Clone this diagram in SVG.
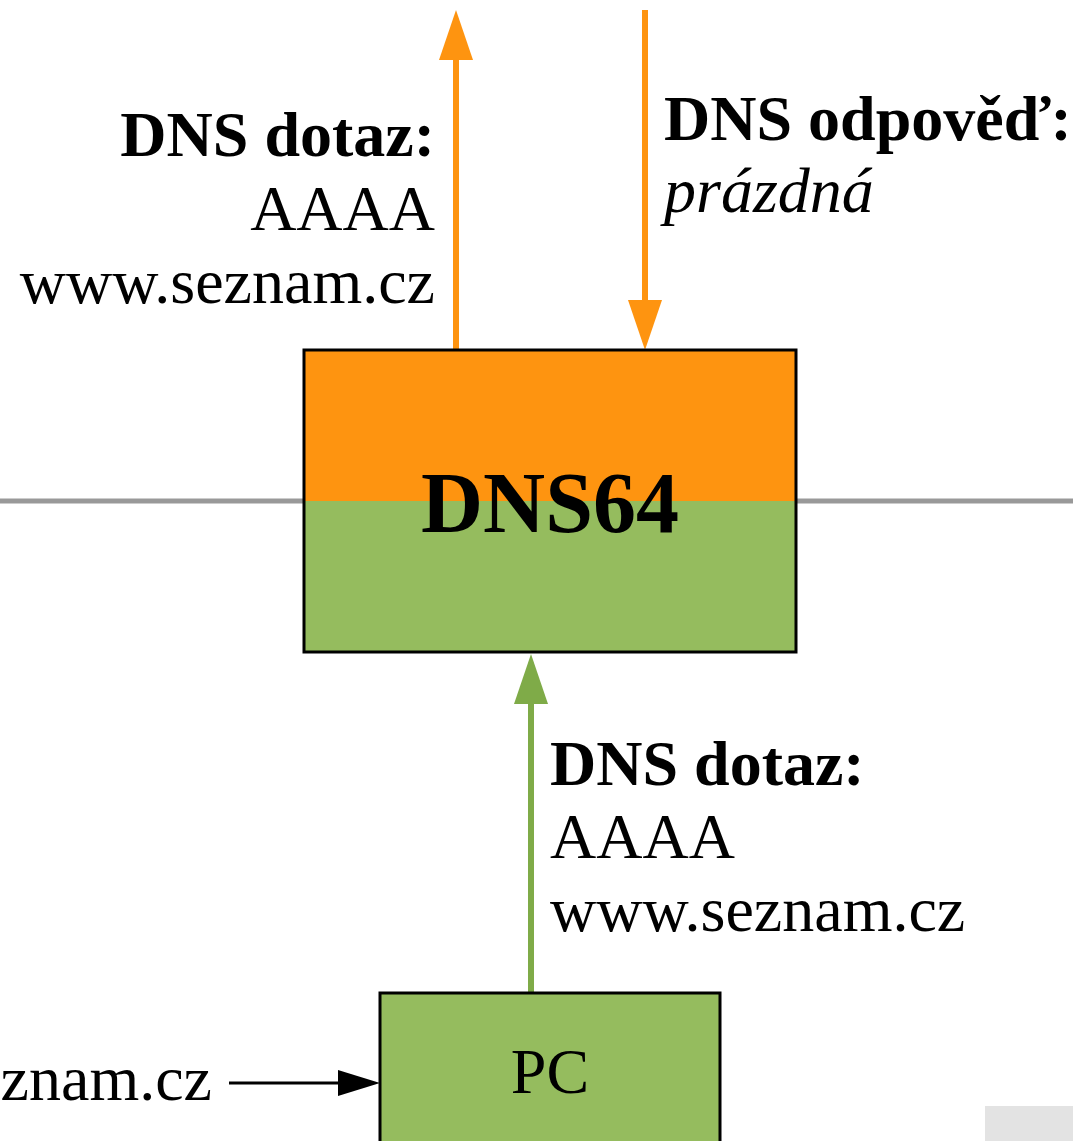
<svg xmlns="http://www.w3.org/2000/svg" width="1073" height="1141" viewBox="0 0 1073 1141">
<defs>
<style>
.t{font-family:"Liberation Serif","Times New Roman",serif;font-size:64px;fill:#000}
.b{font-weight:bold}
.i{font-style:italic}
.e{text-anchor:end}
.m{text-anchor:middle}
</style>
<marker id="ao" markerUnits="userSpaceOnUse" markerWidth="50" markerHeight="34" refX="0" refY="17" orient="auto" viewBox="0 0 50 34"><path d="M0,0 L50,17 L0,34 Z" fill="#fe9410"/></marker>
<marker id="ag" markerUnits="userSpaceOnUse" markerWidth="50" markerHeight="34" refX="0" refY="17" orient="auto" viewBox="0 0 50 34"><path d="M0,0 L50,17 L0,34 Z" fill="#7fab48"/></marker>
<marker id="ak" markerUnits="userSpaceOnUse" markerWidth="42" markerHeight="26" refX="0" refY="13" orient="auto" viewBox="0 0 42 26"><path d="M0,0 L42,13 L0,26 Z" fill="#000"/></marker>
</defs>
<rect width="1073" height="1141" fill="#fff"/>
<line x1="0" y1="501" x2="1073" y2="501" stroke="#999" stroke-width="5"/>
<rect x="985" y="1106" width="88" height="35" fill="#e3e3e3"/>
<g id="connectors">
<line x1="456" y1="350" x2="456" y2="60" stroke="#fe9410" stroke-width="6" marker-end="url(#ao)"/>
<line x1="645" y1="10" x2="645" y2="300" stroke="#fe9410" stroke-width="6" marker-end="url(#ao)"/>
<line x1="531" y1="992" x2="531" y2="704" stroke="#7fab48" stroke-width="6" marker-end="url(#ag)"/>
<line x1="229" y1="1083" x2="338" y2="1083" stroke="#000" stroke-width="3" marker-end="url(#ak)"/>
</g>
<g id="dns64">
<rect x="304" y="350" width="492" height="151" fill="#fe9410"/>
<rect x="304" y="501" width="492" height="151" fill="#95bc5e"/>
<rect x="304" y="350" width="492" height="302" fill="none" stroke="#000" stroke-width="3"/>
<text class="t b m" x="550" y="532" style="font-size:86px">DNS64</text>
</g>
<g id="pc">
<rect x="380" y="993" width="340" height="160" fill="#95bc5e" stroke="#000" stroke-width="3"/>
<text class="t m" x="550" y="1093">PC</text>
</g>
<g id="labels">
<text class="t b e" x="435" y="156">DNS dotaz:</text>
<text class="t e" x="435" y="230">AAAA</text>
<text class="t e" x="435" y="303">www.seznam.cz</text>
<text class="t b" x="664" y="140">DNS odpověď:</text>
<text class="t i" x="664" y="212">prázdná</text>
<text class="t b" x="550" y="785">DNS dotaz:</text>
<text class="t" x="550" y="858">AAAA</text>
<text class="t" x="550" y="931">www.seznam.cz</text>
<text class="t e" x="212" y="1100">www.seznam.cz</text>
</g>
</svg>
